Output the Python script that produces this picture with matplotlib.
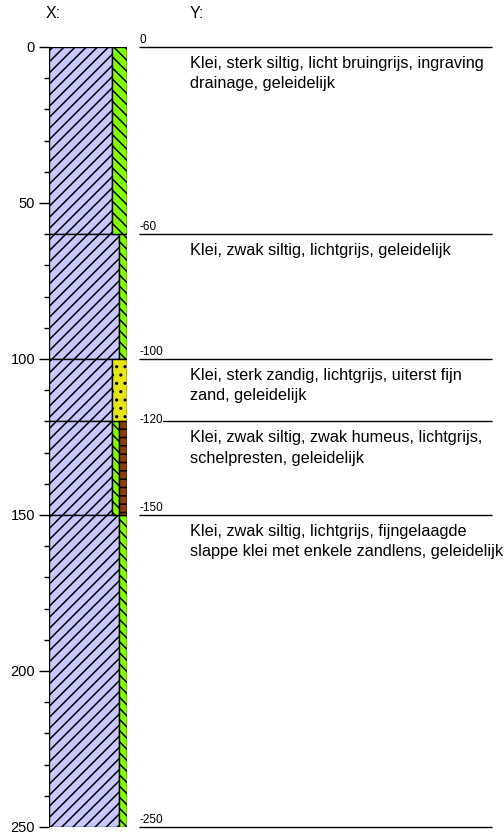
import matplotlib
matplotlib.use("Agg")
import matplotlib.pyplot as plt
import numpy as np

plt.rcParams['font.family'] = ['Liberation Sans', 'DejaVu Sans']
plt.rcParams['hatch.linewidth'] = 1.1

# ---- data ----
layer_tops = [0, 60, 100, 120, 150]
layer_bottoms = [60, 100, 120, 150, 250]
# fraction of column width per component
clay = [0.81, 0.90, 0.81, 0.81, 0.90]
silt = [0.19, 0.10, 0.00, 0.09, 0.10]
sand = [0.00, 0.00, 0.19, 0.00, 0.00]
humus = [0.00, 0.00, 0.00, 0.10, 0.00]
descriptions = [
    "Klei, sterk siltig, licht bruingrijs, ingraving\ndrainage, geleidelijk",
    "Klei, zwak siltig, lichtgrijs, geleidelijk",
    "Klei, sterk zandig, lichtgrijs, uiterst fijn\nzand, geleidelijk",
    "Klei, zwak siltig, zwak humeus, lichtgrijs,\nschelpresten, geleidelijk",
    "Klei, zwak siltig, lichtgrijs, fijngelaagde\nslappe klei met enkele zandlens, geleidelijk",
]
boundaries = [0, 60, 100, 120, 150, 250]
depth_labels = ["0", "-60", "-100", "-120", "-150", "-250"]
major_ticks = [0, 50, 100, 150, 200, 250]

components = [
    (clay, "#c8c8ff", "///"),
    (silt, "#80ff00", "\\\\\\"),
    (sand, "#e6e614", ".."),
    (humus, "#8c3a10", "--"),
]

W, H = 504, 835
fig = plt.figure(figsize=(W / 100, H / 100), dpi=100)
y_top_px, y_bot_px = 47, 827
ax_b = 1 - y_bot_px / H
ax_h = (y_bot_px - y_top_px) / H

ax = fig.add_axes([49 / W, ax_b, 78 / W, ax_h])
thick = np.array(layer_bottoms) - np.array(layer_tops)
left = np.zeros(len(layer_tops))
for vals, col, hatch in components:
    vals = np.array(vals)
    mask = vals > 0
    ax.barh(np.array(layer_tops)[mask], vals[mask], height=thick[mask],
            left=left[mask], align='edge', color=col, edgecolor='black',
            linewidth=1.0, hatch=hatch)
    left = left + vals
ax.set_xlim(0, 1)
ax.set_ylim(250, 0)
for s in ax.spines.values():
    s.set_visible(False)
ax.set_xticks([])
ax.set_yticks(major_ticks)
ax.set_yticks(np.arange(0, 251, 10), minor=True)
ax.tick_params(axis='y', which='major', length=7, width=1, labelsize=10.5, pad=3)
ax.tick_params(axis='y', which='minor', length=3.5, width=1)

# description panel
ax2 = fig.add_axes([139 / W, ax_b, (492 - 139) / W, ax_h])
ax2.set_xlim(0, 1)
ax2.set_ylim(250, 0)
ax2.axis('off')
ax2.hlines(boundaries, 0, 1, color='black', linewidth=1.0, clip_on=False)
for b, lab in zip(boundaries, depth_labels):
    if lab == "-120":
        ax2.annotate(lab, (0, b), xytext=(0, -1.5), textcoords='offset points',
                     fontsize=8.5, va='baseline', ha='left',
                     bbox=dict(facecolor='white', edgecolor='none', pad=0.6))
    else:
        ax2.annotate(lab, (0, b), xytext=(0, 3), textcoords='offset points',
                     fontsize=8.5, va='baseline', ha='left')
text_x = (190 - 139) / (492 - 139)
for t, d in zip(layer_tops, descriptions):
    ax2.annotate(d, (text_x, t), xytext=(0, -6.5), textcoords='offset points',
                 fontsize=11.7, va='top', ha='left', linespacing=1.45,
                 annotation_clip=False)

fig.text(46 / W, 1 - 14 / H, "X:", fontsize=11.5, va='center', ha='left')
fig.text(190 / W, 1 - 14 / H, "Y:", fontsize=11.5, va='center', ha='left')

fig.savefig("out.png", dpi=100)
